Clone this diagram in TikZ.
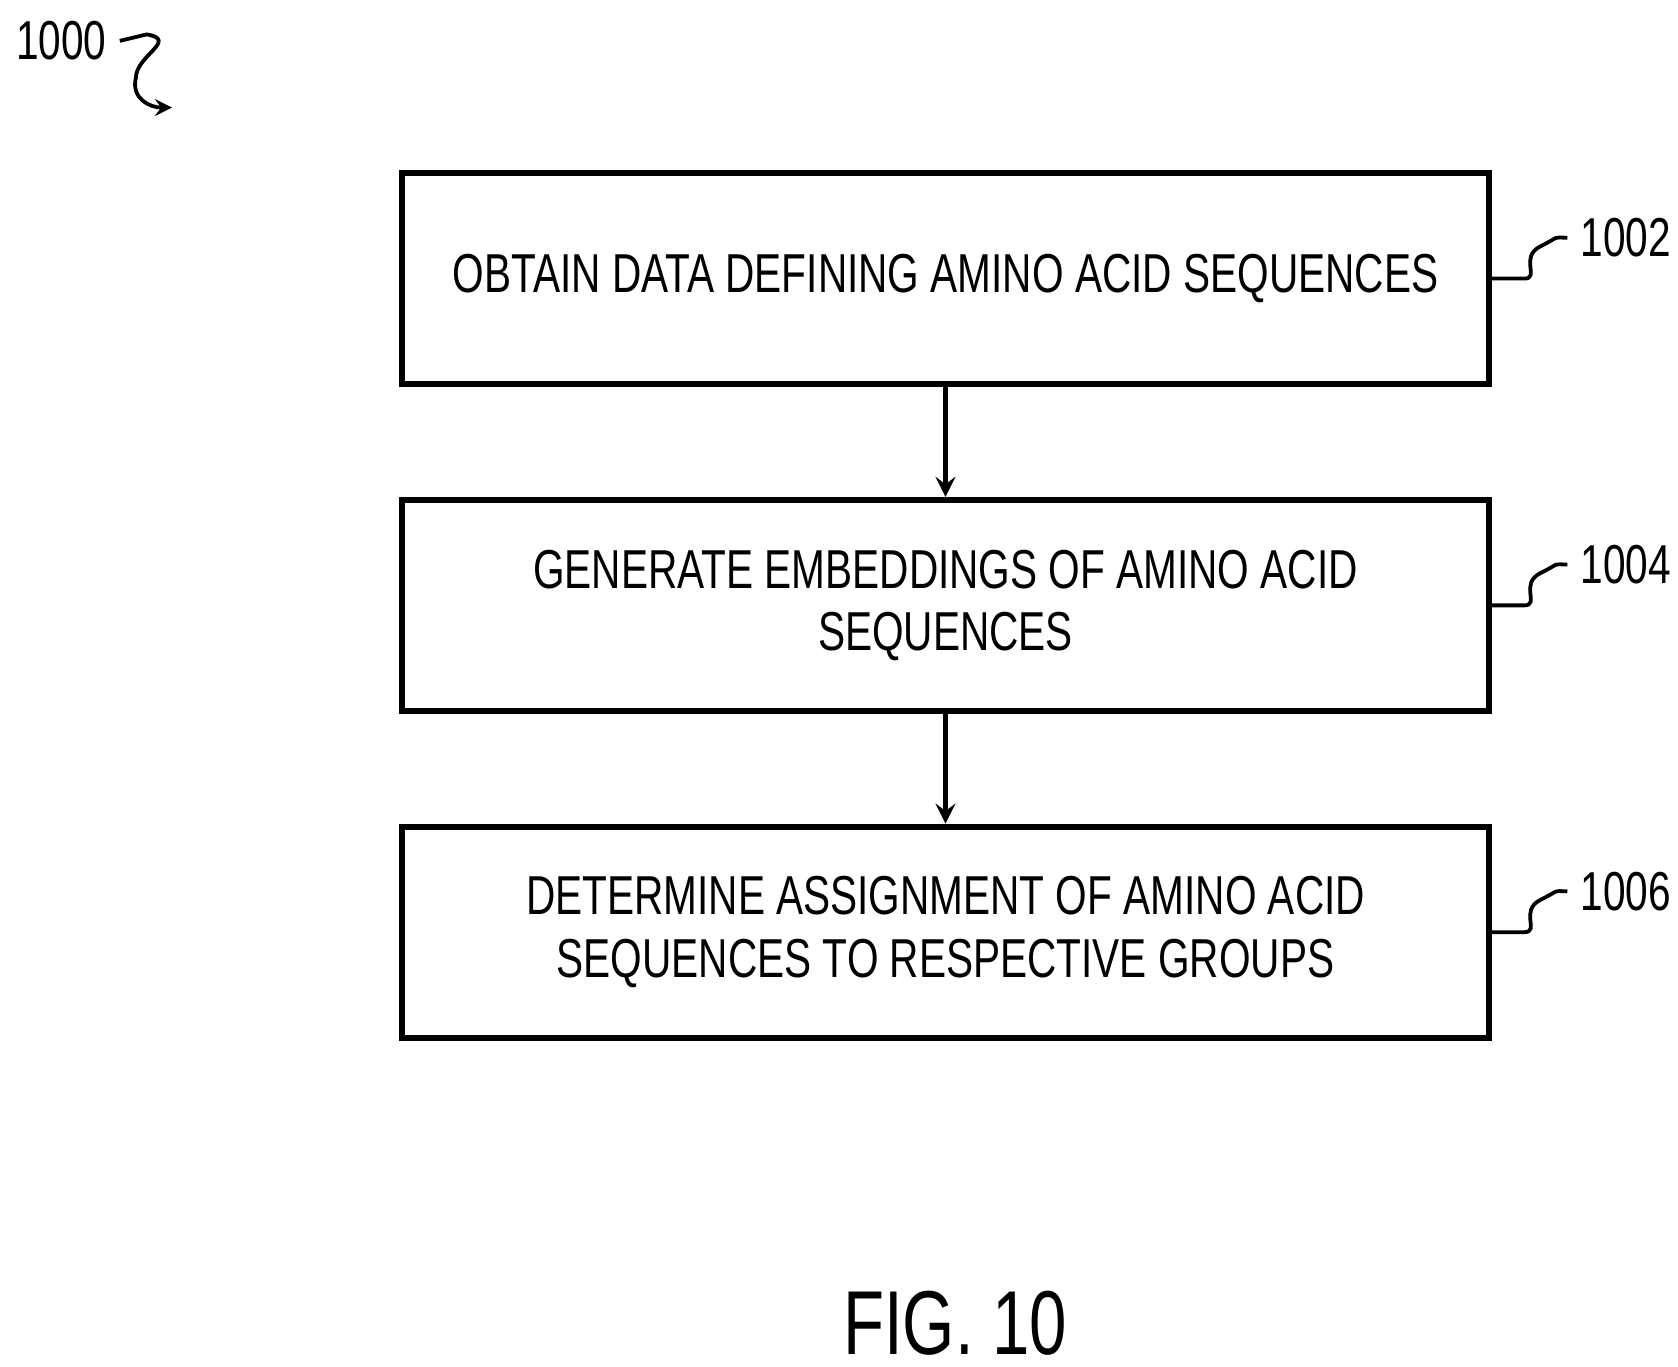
\documentclass[tikz,border=0pt]{standalone}
\usepackage{fontspec}
\setmainfont[FakeStretch=0.74]{Liberation Sans}
\usetikzlibrary{positioning}
\begin{document}
\begin{tikzpicture}[x=0.01cm, y=-0.01cm,
    box/.style={draw, line width=1.6pt, minimum width=10.1cm, minimum height=1.96cm, align=center, font=\fontsize{14.5}{16.5}\selectfont},
    ref/.style={font=\fontsize{14.5}{18}\selectfont},
    flow/.style={->, line width=1.3pt, >=stealth}]
  \useasboundingbox (0,0) rectangle (1560,1270);
  \node[box] (S1) at (879,259) {OBTAIN DATA DEFINING AMINO ACID SEQUENCES};
  \node[box, below=1.02cm of S1] (S2) {GENERATE EMBEDDINGS OF AMINO ACID\\SEQUENCES};
  \node[box, below=1.02cm of S2] (S3) {DETERMINE ASSIGNMENT OF AMINO ACID\\SEQUENCES TO RESPECTIVE GROUPS};

  \draw[flow] (S1) -- (S2);
  \draw[flow] (S2) -- (S3);

  % reference numerals
  \foreach \n/\s in {1002/S1, 1004/S2, 1006/S3} {
    \node[ref, anchor=west] (L\n) at ([xshift=0.7cm, yshift=0.38cm]\s.east) {\n};
    \draw[line width=1pt] (\s.east) -- ++(30,0) .. controls ++(15,0) and ++(-20,10) .. ++(15,-30)
      .. controls ++(20,-10) and ++(-15,0) .. (L\n.west);
  }

  \node[ref] (fig) at (57,38) {1000};
  \coordinate (tip) at (160,100);
  \draw[line width=1pt, ->, >=stealth] (fig.east) -- ++(25,-6) .. controls ++(30,5) and ++(0,-20) .. ++(-10,40)
    .. controls ++(-5,20) and ++(-20,0) .. (tip);

  \node[font=\fontsize{24}{28}\selectfont] (cap) at (888,1230) {FIG. 10};
\end{tikzpicture}
\end{document}
